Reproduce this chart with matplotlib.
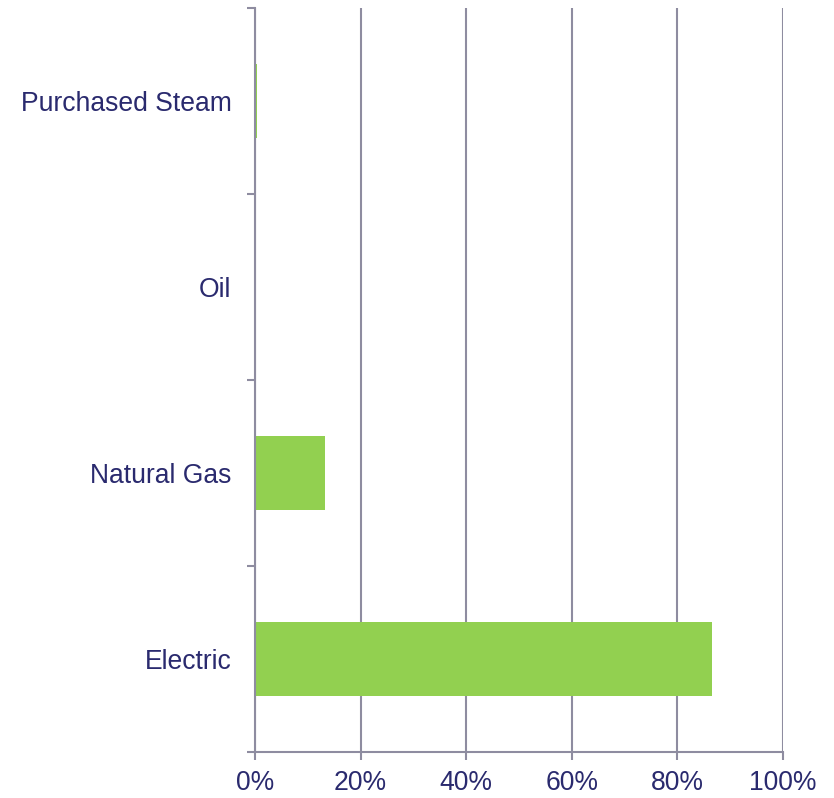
import matplotlib
matplotlib.use("Agg")
import matplotlib.pyplot as plt
import numpy as np
from matplotlib.ticker import FixedLocator, PercentFormatter

categories = ["Electric", "Natural Gas", "Oil", "Purchased Steam"]
values = [86.6, 13.3, 0.0, 0.3]
xticks = [0, 20, 40, 60, 80, 100]

plt.rcParams['font.family'] = ['Liberation Sans', 'DejaVu Sans']
text_color = "#2A2A6E"
grid_color = "#8E8CA0"
bar_color = "#92D050"

fig = plt.figure(figsize=(8.34, 7.98), dpi=100)
ax = fig.add_axes([255/834, 1-752/798, 528/834, 744/798])

y = np.arange(len(categories))
ax.barh(y, values, height=0.4, color=bar_color, zorder=3)

ax.set_xlim(0, 100)
ax.set_ylim(-0.5, len(categories) - 0.5)
ax.set_xticks(xticks)
ax.xaxis.set_major_formatter(PercentFormatter(decimals=0))
ax.set_yticks(y)
ax.set_yticklabels(categories)
ax.yaxis.set_minor_locator(FixedLocator(np.arange(-0.5, len(categories), 1.0)))

ax.grid(axis="x", color=grid_color, linewidth=1.5, zorder=1)
for s in ["top", "right"]:
    ax.spines[s].set_visible(False)
for s in ["left", "bottom"]:
    ax.spines[s].set_color(grid_color)
    ax.spines[s].set_linewidth(1.5)
    ax.spines[s].set_zorder(4)

ax.tick_params(axis="y", which="major", length=0, pad=17, labelsize=19.1, labelcolor=text_color)
ax.tick_params(axis="y", which="minor", length=6, width=1.5, color=grid_color)
ax.tick_params(axis="x", which="major", length=6, width=1.5, color=grid_color, pad=7,
               labelsize=19.1, labelcolor=text_color)

fig.savefig("out.png", dpi=100)
